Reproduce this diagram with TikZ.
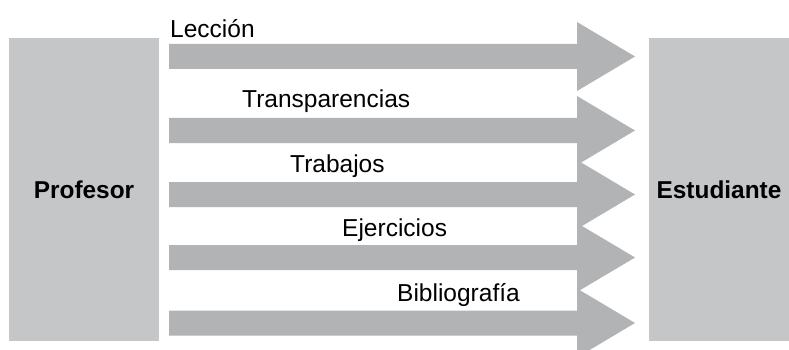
\documentclass[tikz,border=0pt]{standalone}
\usepackage{fontspec}
\setmainfont{Liberation Sans}
\usepackage{tikz}
\usepackage{xcolor}
\usetikzlibrary{positioning}

\definecolor{cajagris}{HTML}{C5C6C8}
\definecolor{flechagris}{HTML}{B2B3B5}

\tikzset{
	caja/.style={rectangle,fill=cajagris,inner sep=0pt,outer sep=0pt,
		font=\fontsize{24.4}{28}\selectfont\bfseries},
	etiqueta/.style={anchor=base west,inner sep=0pt,
		font=\fontsize{24.5}{28}\selectfont},
	flujo/.style={fill=flechagris}
}

\begin{document}
\begin{tikzpicture}[x=1pt,y=-1pt]
	\clip (0,0) rectangle (789,350);
	\fill[white] (0,0) rectangle (789,350);
	\node[caja,minimum width=150pt,minimum height=303pt] (Profesor) at (84,189.5) {Profesor};
	\node[caja,minimum width=140pt,minimum height=303pt] (Estudiante) at (719,189.5) {Estudiante};
	\fill[flujo] (169,44) -- (577,44) -- (577,22) -- (635,56.5) -- (577,91) -- (577,69) -- (169,69) -- cycle;
	\fill[flujo] (169,118) -- (577,118) -- (577,96) -- (635,130.5) -- (577,165) -- (577,143) -- (169,143) -- cycle;
	\fill[flujo] (169,182) -- (577,182) -- (577,160) -- (635,194.5) -- (577,229) -- (577,207) -- (169,207) -- cycle;
	\fill[flujo] (169,245) -- (577,245) -- (577,223) -- (635,257.5) -- (577,292) -- (577,270) -- (169,270) -- cycle;
	\fill[flujo] (169,310.5) -- (577,310.5) -- (577,288.5) -- (635,323) -- (577,357.5) -- (577,335.5) -- (169,335.5) -- cycle;
	\node[etiqueta] (Leccion) at (170,38) {Lección};
	\node[etiqueta] (Transparencias) at (242,108) {Transparencias};
	\node[etiqueta] (Trabajos) at (290,172) {Trabajos};
	\node[etiqueta] (Ejercicios) at (342,236) {Ejercicios};
	\node[etiqueta] (Bibliografia) at (397,301.5) {Bibliografía};
\end{tikzpicture}
\end{document}
